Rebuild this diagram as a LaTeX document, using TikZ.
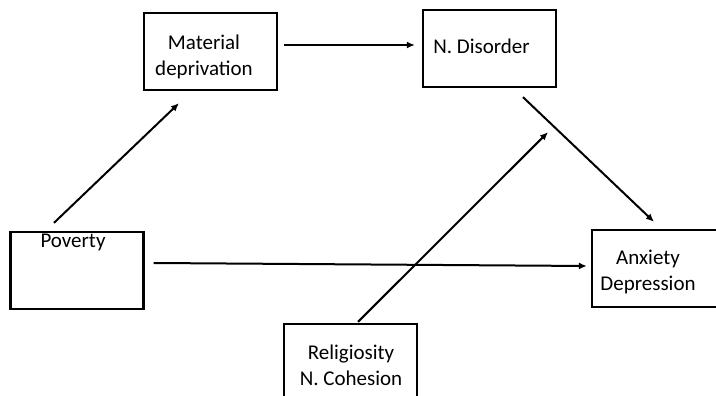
\documentclass[tikz,border=0pt]{standalone}
\usepackage{fontspec}
\setmainfont{Carlito}
\usetikzlibrary{arrows.meta,calc}
\begin{document}
\begin{tikzpicture}[x=1pt, y=1pt, -{Latex[length=8pt,width=7pt]}, line width=2pt,
font=\fontsize{21}{26}\selectfont,
main/.style = {draw, rectangle, line width=2.3pt, minimum width=133pt, minimum height=77pt, inner sep=0pt},
txt/.style = {align=center, inner sep=0pt}]
    \useasboundingbox (0,0) rectangle (716,396);
    \node[main, label={[txt, anchor=north, yshift=-2pt, xshift=-4pt]north:Poverty}] (1) at (77,125.5) {};
    \node[main, label={[txt, xshift=-6.5pt, yshift=-5pt]center:Material\\deprivation}] (2) at (210.5,344.5) {};
    \node[main, label={[txt, xshift=-8pt, yshift=2pt]center:N. Disorder}] (3) at (489.5,347.5) {};
    \node[main, label={[txt, xshift=-10.5pt, yshift=-3pt]center:Anxiety\\Depression}] (4) at (658.5,127.5) {};
    \node[main, label={[txt, xshift=0.5pt, yshift=-3pt]center:Religiosity\\N. Cohesion}] (5) at (350.5,33.5) {};

    \draw ($(2.east)+(6,6.5)$) -- ($(3.west)+(-7,3.5)$);
    \draw ($(1.north)+(-23,8)$) -- ($(2.south)+(-31.5,-12)$);
    \draw ($(3.south)+(33.5,-9)$) -- ($(4.north)+(-4.5,7)$);
    \draw ($(5.north)+(7.5,1)$) -- ($(3.south)+(58.5,-44)$);
    \draw ($(1.east)+(9,7.5)$) -- ($(4.west)+(-4,2.5)$);

\end{tikzpicture}
\end{document}
